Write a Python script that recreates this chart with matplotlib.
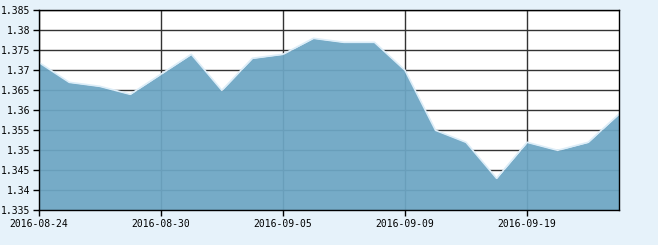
import matplotlib
matplotlib.use("Agg")
import matplotlib.pyplot as plt

dates = ["2016-08-24", "2016-08-25", "2016-08-26", "2016-08-29", "2016-08-30",
         "2016-08-31", "2016-09-01", "2016-09-02", "2016-09-05", "2016-09-06",
         "2016-09-07", "2016-09-08", "2016-09-09", "2016-09-12", "2016-09-13",
         "2016-09-14", "2016-09-19", "2016-09-20", "2016-09-21", "2016-09-22"]
values = [1.372, 1.367, 1.366, 1.364, 1.369, 1.374, 1.365, 1.373, 1.374, 1.378,
          1.377, 1.377, 1.370, 1.355, 1.352, 1.343, 1.352, 1.350, 1.352, 1.359]
tick_dates = ["2016-08-24", "2016-08-30", "2016-09-05", "2016-09-09", "2016-09-19"]
y_ticks = [1.335, 1.34, 1.345, 1.35, 1.355, 1.36, 1.365, 1.37, 1.375, 1.38, 1.385]
y_labels = ["1.335", "1.34", "1.345", "1.35", "1.355", "1.36", "1.365",
            "1.37", "1.375", "1.38", "1.385"]

bg = "#e6f2fa"
fig = plt.figure(figsize=(6.58, 2.45), dpi=100, facecolor=bg)
ax = fig.add_axes([38.7 / 658, (245 - 210.3) / 245, 580 / 658, 200 / 245])
ax.set_facecolor("white")

x = list(range(len(dates)))
ax.fill_between(x, values, 1.335, color="#6da6c4", alpha=0.94, lw=0, zorder=2)
ax.plot(x, values, color="#dcedf8", lw=1.2, zorder=3)

ax.set_xlim(0, len(dates) - 1)
ax.set_ylim(1.335, 1.385)
ax.set_xticks([dates.index(d) for d in tick_dates])
ax.set_xticklabels(tick_dates)
ax.set_yticks(y_ticks)
ax.set_yticklabels(y_labels)

ax.grid(True, color="#333333", lw=1, zorder=1)
ax.set_axisbelow(True)
for s in ax.spines.values():
    s.set_color("black")
    s.set_linewidth(1)
    s.set_zorder(4)
ax.tick_params(direction="out", length=4, width=1, color="black",
               labelsize=7, pad=2)
for lab in ax.get_xticklabels() + ax.get_yticklabels():
    lab.set_family("DejaVu Sans Mono")

fig.savefig("out.png", dpi=100, facecolor=bg)
plt.close()
